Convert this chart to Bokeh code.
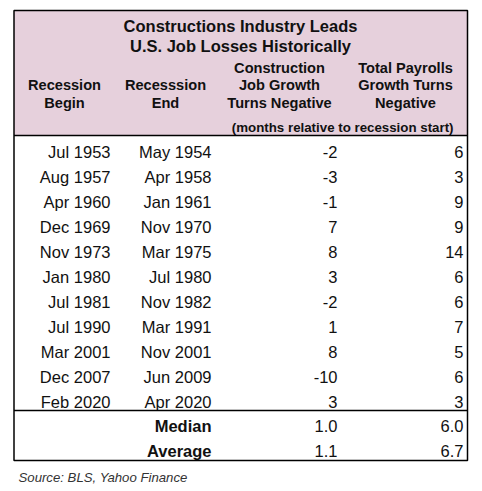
from bokeh.plotting import figure
from bokeh.models import Range1d, ColumnDataSource
from bokeh.core.properties import value
from bokeh.embed import file_html
from bokeh.resources import INLINE

# ---- data ----
title_lines = ["Constructions Industry Leads", "U.S. Job Losses Historically"]
col_headers = [
    ["Recession", "Begin"],
    ["Recesssion", "End"],
    ["Construction", "Job Growth", "Turns Negative"],
    ["Total Payrolls", "Growth Turns", "Negative"],
]
units_note = "(months relative to recession start)"
recession_begin = ["Jul 1953", "Aug 1957", "Apr 1960", "Dec 1969", "Nov 1973", "Jan 1980",
                   "Jul 1981", "Jul 1990", "Mar 2001", "Dec 2007", "Feb 2020"]
recession_end = ["May 1954", "Apr 1958", "Jan 1961", "Nov 1970", "Mar 1975", "Jul 1980",
                 "Nov 1982", "Mar 1991", "Nov 2001", "Jun 2009", "Apr 2020"]
construction_neg = [-2, -3, -1, 7, 8, 3, -2, 1, 8, -10, 3]
payrolls_neg = [6, 3, 9, 9, 14, 6, 6, 7, 5, 6, 3]
summary_labels = ["Median", "Average"]
summary_construction = [1.0, 1.1]
summary_payrolls = [6.0, 6.7]
source_note = "Source: BLS, Yahoo Finance"

# ---- layout (screenshot pixel coordinates) ----
W, H = 470, 488
p = figure(width=W, height=H, output_backend="svg", toolbar_location=None,
           x_range=Range1d(0, W), y_range=Range1d(H, 0),
           min_border=0, outline_line_color=None, background_fill_color="white")
p.axis.visible = False
p.grid.visible = False

FONT = value("Liberation Sans")
LEFT, RIGHT, TOP, BOTTOM = 13.5, 467, 10, 460
HEAD_BOTTOM = 135
SEP = 410

# header background
p.quad(left=[LEFT], right=[RIGHT], top=[TOP], bottom=[HEAD_BOTTOM],
       fill_color="#E6D0DC", line_color=None)

# title
p.text(x=[240, 240], y=[25.5, 45], text=title_lines, text_font=FONT,
       text_font_size="16.5px", text_font_style="bold", text_align="center",
       text_baseline="middle", text_color="#111111")

# column headers
col_centers = [64, 165, 279, 405]
hx, hy, ht = [], [], []
for cx, lines in zip(col_centers, col_headers):
    n = len(lines)
    ys = [102 - 17.5 * (n - 1 - k) for k in range(n)]
    for t, yy in zip(lines, ys):
        hx.append(cx); hy.append(yy); ht.append(t)
p.text(x=hx, y=hy, text=ht, text_font=FONT, text_font_size="14.6px",
       text_font_style="bold", text_align="center", text_baseline="middle",
       text_color="#111111")
p.text(x=[453], y=[127], text=[units_note], text_font=FONT, text_font_size="13.3px",
       text_font_style="bold", text_align="right", text_baseline="middle",
       text_color="#111111")

# data rows
right_edges = [110, 211, 337, 463]
row_y = [151 + 25 * i for i in range(len(recession_begin))]
cols = [recession_begin, recession_end,
        [str(v) for v in construction_neg], [str(v) for v in payrolls_neg]]
for xr, col in zip(right_edges, cols):
    src = ColumnDataSource(dict(x=[xr] * len(col), y=row_y, t=col))
    p.text(x="x", y="y", text="t", source=src, text_font=FONT,
           text_font_size="16.5px", text_align="right", text_baseline="middle",
           text_color="#111111")

# summary rows
sum_y = [425, 450]
p.text(x=[right_edges[1]] * 2, y=sum_y, text=summary_labels, text_font=FONT,
       text_font_size="16.5px", text_font_style="bold", text_align="right",
       text_baseline="middle", text_color="#111111")
p.text(x=[right_edges[2]] * 2, y=sum_y, text=[f"{v:.1f}" for v in summary_construction],
       text_font=FONT, text_font_size="16.5px", text_align="right",
       text_baseline="middle", text_color="#111111")
p.text(x=[right_edges[3]] * 2, y=sum_y, text=[f"{v:.1f}" for v in summary_payrolls],
       text_font=FONT, text_font_size="16.5px", text_align="right",
       text_baseline="middle", text_color="#111111")

# lines
p.segment(x0=[LEFT, LEFT], y0=[HEAD_BOTTOM, SEP], x1=[RIGHT, RIGHT], y1=[HEAD_BOTTOM, SEP],
          line_color="black", line_width=1.5)
p.quad(left=[LEFT], right=[RIGHT], top=[TOP], bottom=[BOTTOM], fill_color=None,
       line_color="black", line_width=1.5)

# source
p.text(x=[18], y=[477], text=[source_note], text_font=FONT, text_font_size="13.2px",
       text_font_style="italic", text_align="left", text_baseline="middle",
       text_color="#333333")

open("out.html", "w").write(file_html(p, INLINE))
